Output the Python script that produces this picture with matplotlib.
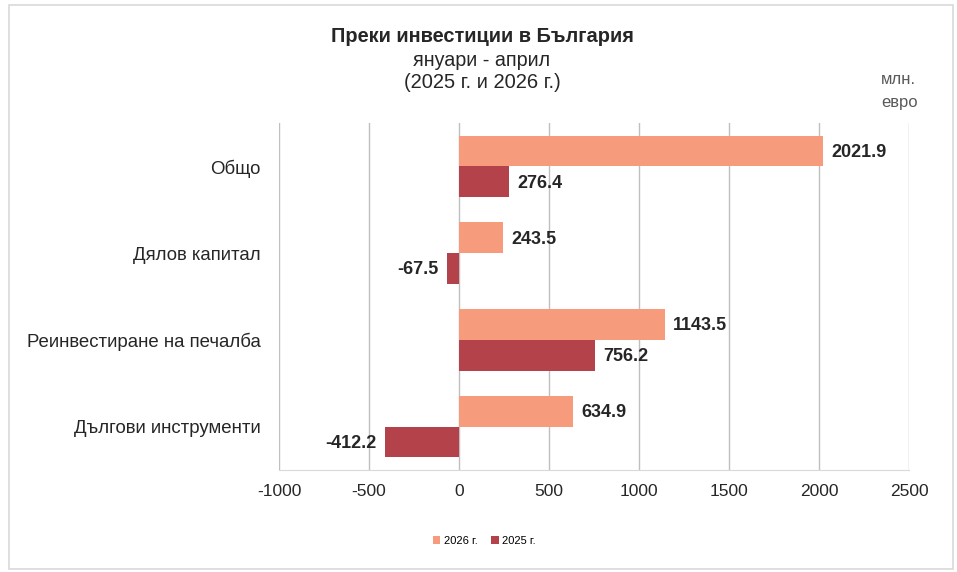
import matplotlib
matplotlib.use("Agg")
import matplotlib.pyplot as plt
from matplotlib.patches import Rectangle

categories = ["Общо", "Дялов капитал", "Реинвестиране на печалба", "Дългови инструменти"]
values_2026 = [2021.9, 243.5, 1143.5, 634.9]
values_2025 = [276.4, -67.5, 756.2, -412.2]
series_labels = ["2026 г.", "2025 г."]
xticks = [-1000, -500, 0, 500, 1000, 1500, 2000, 2500]

c26 = "#F79B7D"
c25 = "#B4424A"
font = ["Liberation Sans", "DejaVu Sans"]
plt.rcParams['font.family'] = font

fig = plt.figure(figsize=(9.57, 5.72), dpi=100)
ax = fig.add_axes([279/957, 1-470/572, (909-279)/957, (470-123)/572])

h = 0.355
y = list(range(len(categories)))
ax.barh([i - h/2 for i in y], values_2026, height=h, color=c26, label=series_labels[0])
ax.barh([i + h/2 for i in y], values_2025, height=h, color=c25, label=series_labels[1])

for i in y:
    for v, off in ((values_2026[i], -h/2), (values_2025[i], h/2)):
        if v >= 0:
            ax.annotate(f"{v:.1f}", (v, i + off), xytext=(6, -1), textcoords="offset points",
                        ha="left", va="center", fontsize=13, fontweight="bold", color="#262626")
        else:
            ax.annotate(f"{v:.1f}", (v, i + off), xytext=(-6, -1), textcoords="offset points",
                        ha="right", va="center", fontsize=13, fontweight="bold", color="#262626")

ax.set_xlim(-1000, 2500)
ax.set_ylim(3.5, -0.5)
ax.set_xticks(xticks)
ax.set_xticklabels([str(t) for t in xticks], fontsize=12.5, color="#262626")
ax.set_yticks(y)
ax.set_yticklabels(categories, fontsize=13.4, color="#262626")
ax.tick_params(axis="x", length=0, pad=10)
ax.tick_params(axis="y", length=0, pad=13)
ax.grid(axis="x", color="#BFBFBF", linewidth=1)
ax.set_axisbelow(True)
for s in ["top", "right", "left"]:
    ax.spines[s].set_visible(False)
ax.spines["bottom"].set_color("#D9D9D9")

fig.text(482/957, 1-37/572, "Преки инвестиции в България", ha="center", va="center",
         fontsize=14.4, fontweight="bold", color="#262626")
fig.text(482/957, 1-60/572, "януари - април", ha="center", va="center", fontsize=14.2, color="#262626")
fig.text(482/957, 1-82/572, "(2025 г. и 2026 г.)", ha="center", va="center", fontsize=14.5, color="#262626")
fig.text(881/957, 1-80/572, "млн.", ha="left", va="center", fontsize=12, color="#595959")
fig.text(881/957, 1-103/572, "евро", ha="left", va="center", fontsize=12, color="#595959")

leg = fig.legend(loc="center", bbox_to_anchor=(484/957, 1-541/572), ncol=2, frameon=False,
                 fontsize=8, handlelength=0.7, handleheight=0.7, handletextpad=0.3, columnspacing=1.2)

fig.patches.append(Rectangle((9/957, 1-569/572), (953-9)/957, (569-5)/572, transform=fig.transFigure,
                             fill=False, edgecolor="#D9D9D9", linewidth=1.2))
fig.savefig("out.png", dpi=100, facecolor="white")
